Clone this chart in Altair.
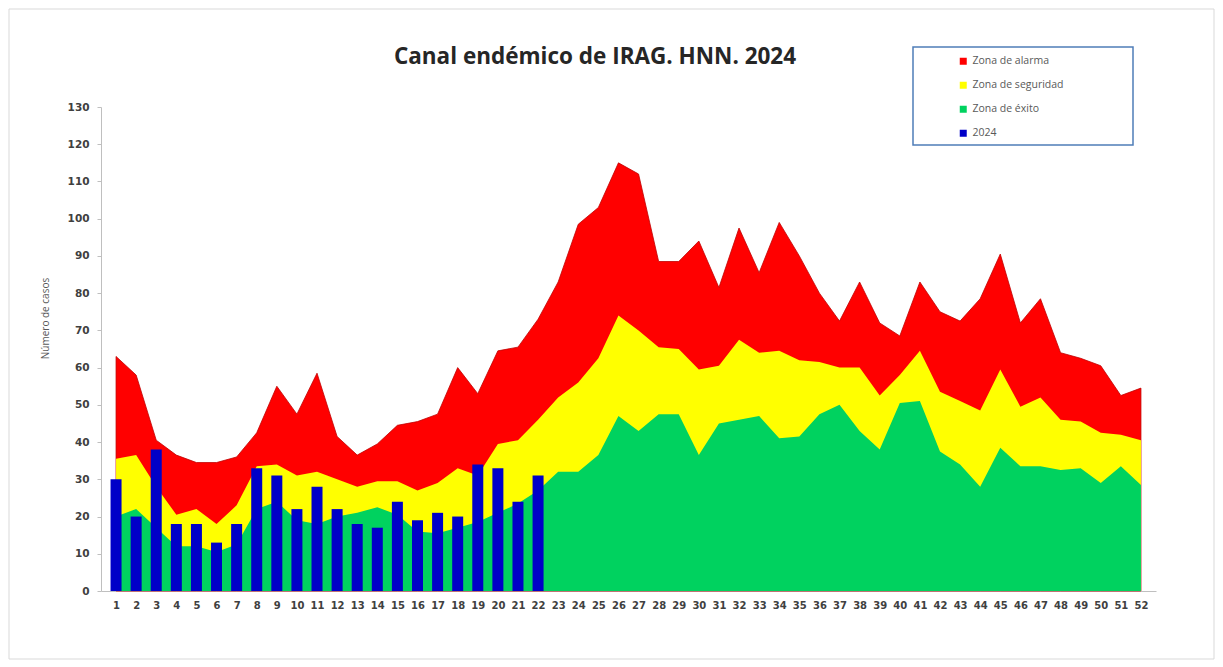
import altair as alt
import pandas as pd

weeks = list(range(1, 53))

alarma = [63, 58, 40.5, 36.5, 34.5, 34.5, 36, 42.5, 55, 47.5, 58.5, 41.5, 36.5, 39.5,
          44.5, 45.5, 47.5, 60, 53, 64.5, 65.5, 73, 83, 98.5, 103, 115, 112, 88.5,
          88.5, 94, 81.5, 97.5, 85.5, 99, 90, 80, 72.5, 83, 72, 68.5, 83, 75, 72.5,
          78.5, 90.5, 72, 78.5, 64, 62.5, 60.5, 52.5, 54.5]

seguridad = [35.5, 36.5, 28, 20.5, 22, 18, 23, 33.5, 34, 31, 32, 30, 28, 29.5,
             29.5, 27, 29, 33, 31, 39.5, 40.5, 46, 52, 56, 62.5, 74, 70, 65.5,
             65, 59.5, 60.5, 67.5, 64, 64.5, 62, 61.5, 60, 60, 52.5, 58, 64.5, 53.5,
             51, 48.5, 59.5, 49.5, 52, 46, 45.5, 42.5, 42, 40.5]

exito = [20, 22, 17, 12, 12, 10.5, 12.5, 22, 24, 19, 18, 20, 21, 22.5,
         20.5, 16, 15.5, 17, 18.5, 21, 23.5, 27, 32, 32, 36.5, 47, 43, 47.5,
         47.5, 36.5, 45, 46, 47, 41, 41.5, 47.5, 50, 43, 38, 50.5, 51, 37.5,
         34, 28, 38.5, 33.5, 33.5, 32.5, 33, 29, 33.5, 28.5]

casos_2024 = [30, 20, 38, 18, 18, 13, 18, 33, 31, 22, 28, 22, 18, 17, 24, 19, 21,
              20, 34, 33, 24, 31]

series_names = ["Zona de alarma", "Zona de seguridad", "Zona de éxito", "2024"]
series_colors = ["#FF0000", "#FFFF00", "#00D25F", "#0000C8"]
titulo = "Canal endémico de IRAG. HNN. 2024"

rows = []
for name, vals in zip(series_names, [alarma, seguridad, exito, casos_2024]):
    for w, v in zip(weeks, vals):
        rows.append({"semana": w, "valor": v, "serie": name})
df = pd.DataFrame(rows)

W, H = 1055, 484
PAD = {"left": 93, "top": 99, "right": 59, "bottom": 69}

xscale = alt.Scale(domain=[0.5, 52.5], nice=False, zero=False)
yscale = alt.Scale(domain=[0, 130], nice=False)
cscale = alt.Scale(domain=series_names, range=series_colors)

xaxis = alt.Axis(values=weeks, title=None, ticks=False, grid=False, domain=True,
                 domainColor="#BFBFBF", labelFont="DejaVu Sans", labelFontWeight="bold",
                 labelFontSize=10, labelColor="#404040", labelPadding=9, labelOverlap=False,
                 labelFlush=False)
yaxis = alt.Axis(values=list(range(0, 131, 10)), title="Número de casos", grid=False,
                 domainColor="#BFBFBF", tickColor="#BFBFBF", tickSize=4,
                 labelFont="DejaVu Sans", labelFontWeight="bold", labelFontSize=10.5,
                 labelColor="#404040", labelPadding=8,
                 titleFont="Open Sans", titleFontWeight="normal", titleFontSize=10,
                 titleColor="#595959", titleX=-56, titleY=211, titleAngle=270,
                 titleBaseline="middle", titleAlign="center")

legend = alt.Legend(title=None, orient="none", legendX=857, legendY=-51,
                    symbolType="square", symbolSize=49, symbolStrokeWidth=0,
                    labelFont="Open Sans", labelFontSize=10.5, labelColor="#595959",
                    rowPadding=13, padding=0, labelOffset=4)

base = alt.Chart(df)

def area_layer(name, stroke=None):
    kw = {}
    if stroke:
        kw = {"stroke": stroke, "strokeWidth": 0.8}
    return base.transform_filter(alt.datum.serie == name).mark_area(
        interpolate="linear", opacity=1, **kw
    ).encode(
        x=alt.X("semana:Q", scale=xscale, axis=xaxis),
        y=alt.Y("valor:Q", scale=yscale, axis=yaxis, stack=None),
        color=alt.Color("serie:N", scale=cscale, legend=legend),
    )

one = pd.DataFrame({"t": [titulo]})

box = alt.Chart(one).mark_rect(
    fill="white", stroke="#4F7DB8", strokeWidth=1.5
).encode(x=alt.value(812), x2=alt.value(1032), y=alt.value(-60), y2=alt.value(38))

frame = alt.Chart(one).mark_rect(
    fill=None, stroke="#D9D9D9", strokeWidth=1
).encode(x=alt.value(-92), x2=alt.value(W + PAD["right"] - 1),
         y=alt.value(-98), y2=alt.value(H + PAD["bottom"] - 1))

title_mark = alt.Chart(one).mark_text(
    font="Open Sans", fontSize=22.5, fontWeight="bold", color="#262626",
    align="center", baseline="middle"
).encode(x=alt.value(494), y=alt.value(-50), text="t:N")

bars = base.transform_filter(alt.datum.serie == "2024").mark_bar(size=11).encode(
    x=alt.X("semana:Q", scale=xscale, axis=xaxis),
    y=alt.Y("valor:Q", scale=yscale, axis=yaxis),
    color=alt.Color("serie:N", scale=cscale, legend=legend),
)

chart = alt.layer(
    frame,
    box,
    title_mark,
    area_layer("Zona de alarma", stroke="#C00000"),
    area_layer("Zona de seguridad"),
    area_layer("Zona de éxito"),
    bars,
).properties(
    width=W, height=H,
    autosize=alt.AutoSizeParams(type="none"),
    padding=PAD,
    background="white",
).configure_view(stroke="transparent", strokeWidth=0)

chart.save("out.html", embed_options={"renderer": "svg", "actions": False})
